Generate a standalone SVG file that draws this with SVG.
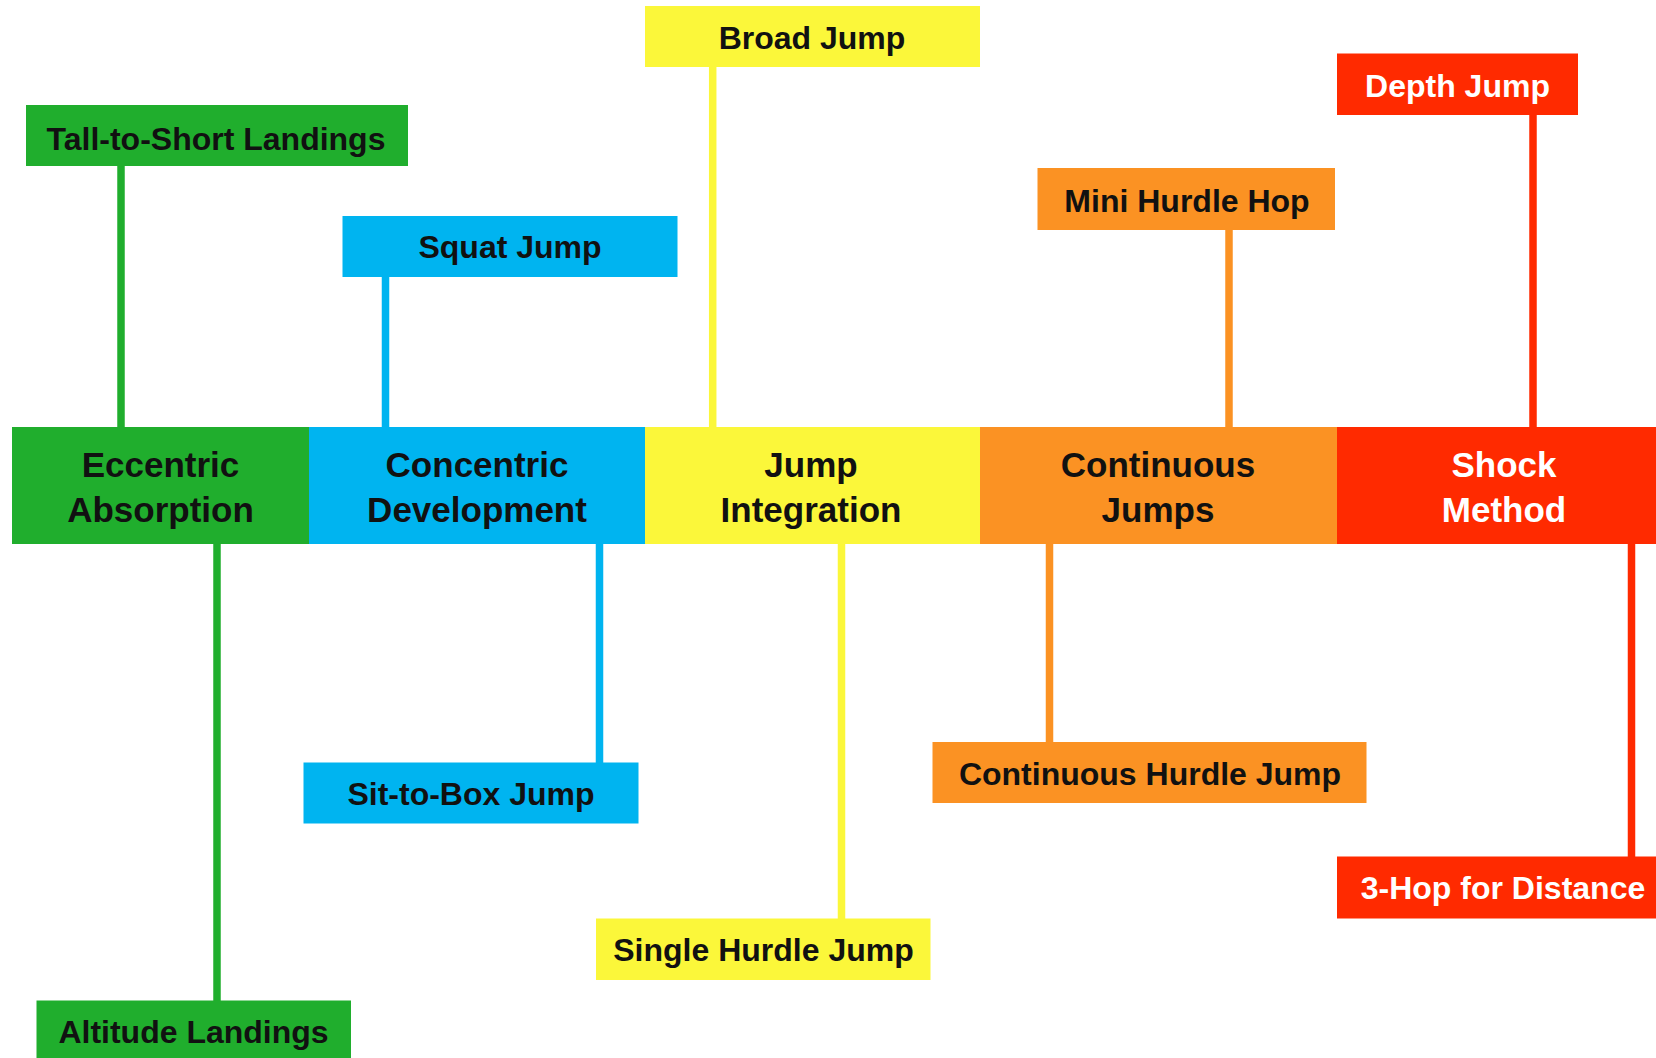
<svg xmlns="http://www.w3.org/2000/svg" width="1656" height="1058" viewBox="0 0 1656 1058">
<style>
text{font-family:"Liberation Sans",Arial,Helvetica,sans-serif;font-weight:bold;text-anchor:middle;fill:#111}
.s{font-size:32px}
.m{font-size:35px}
.w{fill:#fff}
.g{fill:#20ae2d}.b{fill:#00b4f0}.y{fill:#fbf73a}.o{fill:#fb9223}.r{fill:#ff2a00}
line{stroke-width:7.5}
.lg{stroke:#20ae2d}.lb{stroke:#00b4f0}.ly{stroke:#fbf73a}.lo{stroke:#fb9223}.lr{stroke:#ff2a00}
</style>
<rect width="1656" height="1058" fill="#fff"/>
<g id="connectors">
<line class="lg" x1="121" y1="166" x2="121" y2="428"/>
<line class="lb" x1="385.5" y1="277" x2="385.5" y2="428"/>
<line class="ly" x1="712.7" y1="67" x2="712.7" y2="428"/>
<line class="lo" x1="1229" y1="230" x2="1229" y2="428"/>
<line class="lr" x1="1533" y1="115" x2="1533" y2="428"/>
<line class="lg" x1="217" y1="543" x2="217" y2="1001"/>
<line class="lb" x1="599.5" y1="543" x2="599.5" y2="763"/>
<line class="ly" x1="841.5" y1="543" x2="841.5" y2="919"/>
<line class="lo" x1="1049.5" y1="543" x2="1049.5" y2="743"/>
<line class="lr" x1="1631.5" y1="543" x2="1631.5" y2="858"/>
</g>
<g id="eccentric"><rect class="g" x="12" y="427" width="297" height="117"/><text class="m" x="160.5" y="477">Eccentric</text><text class="m" x="160.5" y="522">Absorption</text></g>
<g id="concentric"><rect class="b" x="309" y="427" width="336" height="117"/><text class="m" x="477" y="477">Concentric</text><text class="m" x="477" y="522">Development</text></g>
<g id="integration"><rect class="y" x="645" y="427" width="335" height="117"/><text class="m" x="811" y="477">Jump</text><text class="m" x="811" y="522">Integration</text></g>
<g id="continuous"><rect class="o" x="980" y="427" width="357" height="117"/><text class="m" x="1158" y="477">Continuous</text><text class="m" x="1158" y="522">Jumps</text></g>
<g id="shock"><rect class="r" x="1337" y="427" width="330" height="117"/><text class="m w" x="1504" y="477">Shock</text><text class="m w" x="1504" y="522">Method</text></g>
<g id="tall-to-short"><rect class="g" x="26" y="105" width="382" height="61"/><text class="s" x="216" y="150">Tall-to-Short Landings</text></g>
<g id="squat-jump"><rect class="b" x="342.5" y="216" width="335" height="61"/><text class="s" x="510" y="258">Squat Jump</text></g>
<g id="broad-jump"><rect class="y" x="645" y="6" width="335" height="61"/><text class="s" x="812" y="48.5">Broad Jump</text></g>
<g id="mini-hurdle-hop"><rect class="o" x="1037.5" y="168" width="297.5" height="62"/><text class="s" x="1187" y="212">Mini Hurdle Hop</text></g>
<g id="depth-jump"><rect class="r" x="1337" y="53.5" width="241" height="61.5"/><text class="s w" x="1457.5" y="96.5">Depth Jump</text></g>
<g id="altitude-landings"><rect class="g" x="36.5" y="1000.5" width="314.5" height="62"/><text class="s" x="193.5" y="1043">Altitude Landings</text></g>
<g id="sit-to-box"><rect class="b" x="303.5" y="762.5" width="335" height="61"/><text class="s" x="471" y="805">Sit-to-Box Jump</text></g>
<g id="single-hurdle"><rect class="y" x="596" y="918.5" width="334.5" height="61.5"/><text class="s" x="763.5" y="960.5">Single Hurdle Jump</text></g>
<g id="continuous-hurdle"><rect class="o" x="932.5" y="742" width="434" height="61"/><text class="s" x="1150" y="784.5">Continuous Hurdle Jump</text></g>
<g id="three-hop"><rect class="r" x="1337" y="856.5" width="330" height="62"/><text class="s w" x="1503" y="899">3-Hop for Distance</text></g>
</svg>
